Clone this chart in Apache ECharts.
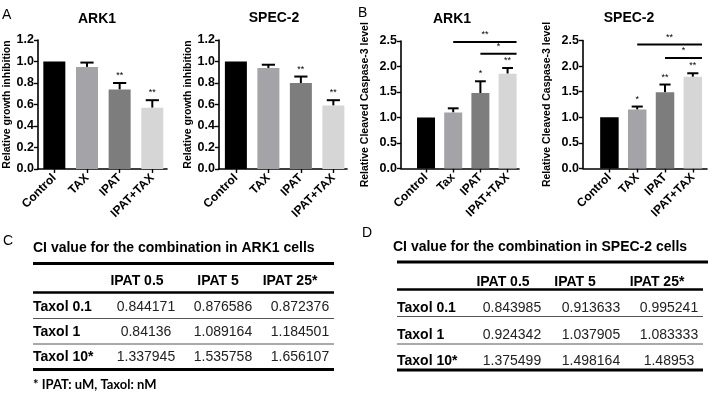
<!DOCTYPE html>
<html><head><meta charset="utf-8">
<script src="https://cdn.jsdelivr.net/npm/echarts@6/dist/echarts.min.js"></script>
<style>html,body{margin:0;padding:0;background:#fff}#c{width:720px;height:395px}</style>
</head><body><div id="c"></div>
<script>
// ---------- data ----------
const catsA = ['Control', 'TAX', 'IPAT', 'IPAT+TAX'];
const catsB1 = ['Control', 'Tax', 'IPAT', 'IPAT+TAX'];
const catsB2 = ['Control', 'TAX', 'IPAT', 'IPAT+TAX'];
const growthARK1 = [1.0, 0.95, 0.74, 0.57];
const growthARK1Err = [0, 0.04, 0.06, 0.07];
const growthARK1Stars = ['', '', '**', '**'];
const growthSPEC2 = [1.0, 0.94, 0.80, 0.59];
const growthSPEC2Err = [0, 0.03, 0.06, 0.05];
const growthSPEC2Stars = ['', '', '**', '**'];
const caspARK1 = [1.0, 1.10, 1.48, 1.86];
const caspARK1Err = [0, 0.08, 0.23, 0.11];
const caspARK1Stars = ['', '', '*', '**'];
const caspARK1Brackets = [[1, 3, 2.48, '**'], [2, 3, 2.25, '*']];
const caspSPEC2 = [1.0, 1.15, 1.49, 1.79];
const caspSPEC2Err = [0, 0.06, 0.15, 0.07];
const caspSPEC2Stars = ['', '*', '**', '**'];
const caspSPEC2Brackets = [[1, 3, 2.42, '**'], [2, 3, 2.16, '*']];
const growthTicks = [0, 0.2, 0.4, 0.6, 0.8, 1.0, 1.2];
const caspTicks = [0, 0.5, 1.0, 1.5, 2.0, 2.5];
const tableCols = ['IPAT 0.5', 'IPAT 5', 'IPAT 25*'];
const tableRows = ['Taxol 0.1', 'Taxol 1', 'Taxol 10*'];
const ciARK1 = [['0.844171', '0.876586', '0.872376'], ['0.84136', '1.089164', '1.184501'], ['1.337945', '1.535758', '1.656107']];
const ciSPEC2 = [['0.843985', '0.913633', '0.995241'], ['0.924342', '1.037905', '1.083333'], ['1.375499', '1.498164', '1.48953']];
const barColors = ['#000000', '#a4a4a8', '#7d7d7d', '#d6d6d6'];

// ---------- layout ----------
const FONT = '"Liberation Sans", Arial, sans-serif';
const panels = [
  {cats: catsA, v: growthARK1, e: growthARK1Err, s: growthARK1Stars, br: [], ticks: growthTicks,
   grid: {left: 38, top: 40, width: 129, height: 129}, xmin: -0.5, xmax: 3.45, bw: 22,
   name: 'Relative growth inhibition', title: 'ARK1', tx: 92, ty: 7},
  {cats: catsA, v: growthSPEC2, e: growthSPEC2Err, s: growthSPEC2Stars, br: [], ticks: growthTicks,
   grid: {left: 219, top: 40, width: 128, height: 129}, xmin: -0.52, xmax: 3.42, bw: 22,
   name: 'Relative growth inhibition', title: 'SPEC-2', tx: 269, ty: 6},
  {cats: catsB1, v: caspARK1, e: caspARK1Err, s: caspARK1Stars, br: caspARK1Brackets, ticks: caspTicks,
   grid: {left: 401, top: 41, width: 118, height: 127.5}, xmin: -0.92, xmax: 3.42, bw: 18,
   name: 'Relative Cleaved Caspase-3 level', title: 'ARK1', tx: 447, ty: 7},
  {cats: catsB2, v: caspSPEC2, e: caspSPEC2Err, s: caspSPEC2Stars, br: caspSPEC2Brackets, ticks: caspTicks,
   grid: {left: 583, top: 40.5, width: 124, height: 128}, xmin: -0.95, xmax: 3.51, bw: 18.5,
   name: 'Relative Cleaved Caspase-3 level', title: 'SPEC-2', tx: 624, ty: 6}
];

const grids = [], xAxes = [], yAxes = [], series = [], titles = [];
panels.forEach((p, k) => {
  grids.push(Object.assign({containLabel: false}, p.grid));
  const cats = p.cats;
  xAxes.push({
    type: 'value', gridIndex: k, min: p.xmin, max: p.xmax,
    axisLine: {show: true, onZero: false, lineStyle: {color: '#000', width: 1.6}},
    axisTick: {show: true, customValues: [0, 1, 2, 3], length: 4, lineStyle: {color: '#000', width: 1.4}},
    axisLabel: {customValues: [0, 1, 2, 3], rotate: 45, margin: 7, formatter: v => cats[Math.round(v)] || '',
      color: '#000', fontFamily: FONT, fontWeight: 'bold', fontSize: 12},
    splitLine: {show: false}
  });
  const tks = p.ticks;
  yAxes.push({
    type: 'value', gridIndex: k, min: tks[0], max: tks[tks.length - 1], interval: tks[1] - tks[0],
    axisLine: {show: true, onZero: false, lineStyle: {color: '#000', width: 1.6}},
    axisTick: {show: true, length: 4, lineStyle: {color: '#000', width: 1.4}},
    axisLabel: {formatter: v => v.toFixed(1), color: '#000', fontFamily: FONT, fontWeight: 'bold', fontSize: 12.5, margin: 4},
    splitLine: {show: false},
    name: p.name, nameLocation: 'middle', nameGap: k < 2 ? 25 : 30,
    nameTextStyle: {color: '#000', fontFamily: FONT, fontWeight: 'bold', fontSize: 10.5}
  });
  titles.push({text: p.title, left: p.tx, top: p.ty, textAlign: 'center',
    textStyle: {fontFamily: FONT, fontWeight: 'bold', fontSize: 14, color: '#000'}});
  series.push({
    type: 'bar', xAxisIndex: k, yAxisIndex: k, barWidth: p.bw,
    data: p.v.map((val, i) => ({value: [i, val], itemStyle: {color: barColors[i]}})),
    silent: true, animation: false
  });
  // error bars (upper only) + stars
  series.push({
    type: 'custom', xAxisIndex: k, yAxisIndex: k, clip: false, animation: false, silent: true,
    data: p.v.map((val, i) => [i, val, p.e[i]]),
    renderItem: (params, api) => {
      const i = params.dataIndex;
      const val = p.v[i], err = p.e[i];
      const star = p.s[i];
      const b = api.coord([i, val]);
      const t = api.coord([i, val + err]);
      const children = [];
      const cap = p.bw * 0.3;
      if (err > 0) {
        children.push({type: 'line', shape: {x1: b[0], y1: b[1], x2: t[0], y2: t[1]}, style: {stroke: '#000', lineWidth: 2}});
        children.push({type: 'line', shape: {x1: t[0] - cap, y1: t[1], x2: t[0] + cap, y2: t[1]}, style: {stroke: '#000', lineWidth: 2}});
      }
      if (star) {
        children.push({type: 'text', style: {text: star, x: t[0], y: t[1] - 3, textAlign: 'center', textVerticalAlign: 'bottom',
          font: '9px ' + FONT, fill: '#000'}});
      }
      return {type: 'group', children};
    }
  });
  if (p.br.length) {
    series.push({
      type: 'custom', xAxisIndex: k, yAxisIndex: k, clip: false, animation: false, silent: true,
      data: p.br.map(b => [b[0], b[1], b[2]]),
      renderItem: (params, api) => {
        const bb = p.br[params.dataIndex];
        const from = bb[0], to = bb[1], yv = bb[2], lbl = bb[3];
        const a = api.coord([from, yv]);
        const c = api.coord([to + 0.33, yv]);
        return {type: 'group', children: [
          {type: 'line', shape: {x1: a[0], y1: a[1], x2: c[0], y2: c[1]}, style: {stroke: '#000', lineWidth: 2}},
          {type: 'text', style: {text: lbl, x: (a[0] + c[0]) / 2, y: a[1] - 3, textAlign: 'center', textVerticalAlign: 'bottom',
            font: '9px ' + FONT, fill: '#000'}}
        ]};
      }
    });
  }
});

// ---------- tables ----------
const graphics = [];
function txt(t, x, y, opts) {
  graphics.push({type: 'text', silent: true, style: Object.assign({text: t, x, y, textAlign: 'left', textVerticalAlign: 'middle',
    font: '14px ' + FONT, fill: '#000'}, opts || {})});
}
function hline(x1, x2, y, w, col) {
  graphics.push({type: 'line', silent: true, shape: {x1, y1: y, x2, y2: y}, style: {stroke: col || '#000', lineWidth: w}});
}
// panel letters
txt('A', 2, 15, {font: '14px ' + FONT});
txt('B', 358, 13, {font: '14px ' + FONT});
txt('C', 3, 241, {font: '14px ' + FONT});
txt('D', 362, 233, {font: '14px ' + FONT});

function table(cfg) {
  txt(cfg.title, cfg.titleX, cfg.titleY, {font: 'bold 14px ' + FONT});
  hline(cfg.x1, cfg.x2top, cfg.lines[0], 3);
  tableCols.forEach((c, j) => txt(c, cfg.hx[j], cfg.hy, {font: 'bold 14px ' + FONT, textAlign: 'center'}));
  hline(cfg.x1, cfg.x2, cfg.lines[1], 2.6);
  tableRows.forEach((r, i) => {
    txt(r, cfg.x1, cfg.ry[i], {font: 'bold 14px ' + FONT});
    cfg.vals[i].forEach((v, j) => txt(v, cfg.vx[j], cfg.ry[i], {textAlign: 'center', fill: '#222'}));
  });
  hline(cfg.x1, cfg.x2, cfg.lines[2], 1, '#555');
  hline(cfg.x1, cfg.x2, cfg.lines[3], 1, '#555');
  hline(cfg.x1, cfg.x2, cfg.lines[4], 3);
}
table({title: 'CI value for the combination in ARK1 cells', titleX: 33, titleY: 248.5,
  x1: 33, x2: 334, x2top: 334, lines: [263.5, 292.5, 318.5, 344, 369.5],
  hx: [137, 218, 290], hy: 281, vx: [146, 223, 300], ry: [307, 332.5, 357], vals: ciARK1});
table({title: 'CI value for the combination in SPEC-2 cells', titleX: 393, titleY: 247,
  x1: 397, x2: 703, x2top: 708, lines: [262, 289.5, 316.5, 344, 370],
  hx: [503, 575, 657], hy: 282, vx: [512, 591, 669], ry: [308, 335, 361.5], vals: ciSPEC2});
txt('* IPAT: uM, Taxol: nM', 33, 385, {font: 'bold 13px Lato, ' + FONT});

const chart = echarts.init(document.getElementById('c'), null, {renderer: 'canvas'});
chart.setOption({
  animation: false, backgroundColor: '#fff',
  title: titles, grid: grids, xAxis: xAxes, yAxis: yAxes, series, graphic: graphics
});
</script></body></html>
